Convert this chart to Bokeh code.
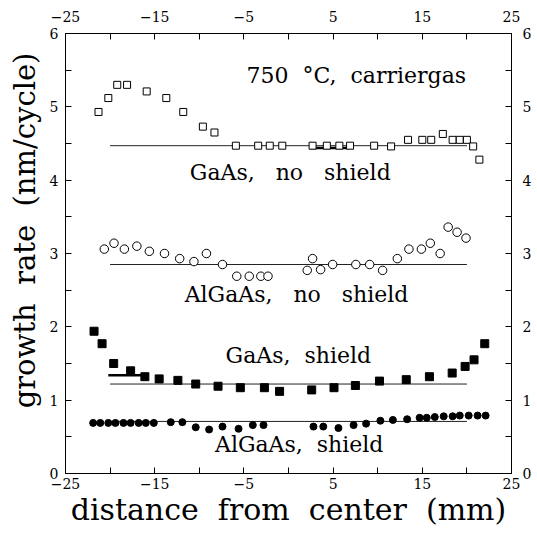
from bokeh.plotting import figure
from bokeh.models import LinearAxis, FixedTicker, Range1d, Label
from bokeh.embed import file_html
from bokeh.resources import INLINE

# ---------------- data ----------------
# GaAs, no shield (open squares)
gaas_ns_x = [-21.3, -20.2, -19.2, -18.1, -15.9, -13.7, -11.8, -9.6, -8.3, -5.9, -3.4, -2.1, -0.7,
             2.7, 4.3, 5.7, 6.9, 9.6, 11.5, 13.4, 15.0, 16.0, 17.3, 18.4, 19.2, 20.0, 20.7, 21.4]
gaas_ns_y = [4.93, 5.12, 5.30, 5.30, 5.21, 5.12, 4.93, 4.73, 4.65, 4.47, 4.47, 4.47, 4.47,
             4.47, 4.47, 4.47, 4.47, 4.47, 4.46, 4.55, 4.55, 4.55, 4.63, 4.55, 4.55, 4.55, 4.46, 4.28]
# AlGaAs, no shield (open circles)
algaas_ns_x = [-20.65, -19.56, -18.4, -17.0, -15.6, -13.9, -12.2, -10.6, -9.2, -7.4, -5.8, -4.4, -3.1, -2.3,
               2.1, 2.7, 3.6, 4.95, 7.55, 9.1, 10.55, 12.2, 13.5, 14.9, 15.9, 17.0, 17.9, 18.9, 19.9]
algaas_ns_y = [3.06, 3.14, 3.06, 3.10, 3.03, 3.00, 2.93, 2.89, 3.00, 2.85, 2.69, 2.69, 2.69, 2.69,
               2.77, 2.93, 2.78, 2.85, 2.85, 2.85, 2.77, 2.93, 3.06, 3.06, 3.14, 3.00, 3.36, 3.29, 3.21]
# GaAs, shield (filled squares)
gaas_s_x = [-21.8, -20.9, -19.6, -17.7, -16.1, -14.5, -12.4, -10.4, -7.9, -5.4, -2.7, -1.0,
            2.6, 5.1, 7.5, 10.2, 13.2, 15.8, 18.35, 19.8, 20.8, 22.0]
gaas_s_y = [1.94, 1.77, 1.50, 1.40, 1.32, 1.29, 1.27, 1.22, 1.19, 1.17, 1.17, 1.12,
            1.14, 1.17, 1.20, 1.26, 1.28, 1.32, 1.37, 1.46, 1.55, 1.77]
# AlGaAs, shield (filled circles)
algaas_s_x = [-21.9, -21.1, -20.2, -19.4, -18.5, -17.7, -16.8, -16.0, -15.1, -13.2, -11.9, -10.4, -8.9,
              -7.4, -5.6, -4.0, -2.8, 2.8, 3.9, 5.6, 7.3, 8.7, 10.3, 11.7, 13.3, 14.7, 15.5, 16.4,
              17.4, 18.4, 19.2, 20.2, 21.2, 22.1]
algaas_s_y = [0.69, 0.69, 0.69, 0.69, 0.69, 0.69, 0.69, 0.69, 0.69, 0.70, 0.70, 0.63, 0.60,
              0.64, 0.61, 0.66, 0.66, 0.64, 0.64, 0.62, 0.66, 0.68, 0.72, 0.73, 0.74, 0.76, 0.76, 0.77,
              0.78, 0.78, 0.79, 0.79, 0.79, 0.79]

# fitted (average) lines: x start, x end, level
fit_x0 = [-20.0, -20.0, -20.0, -20.0]
fit_x1 = [20.0, 20.0, 20.0, 20.0]
fit_y = [4.47, 2.85, 1.22, 0.71]
# short heavier segments
seg_x0 = [2.4, -20.2]
seg_x1 = [6.9, -16.4]
seg_y = [4.44, 1.34]

x_major = [-25, -15, -5, 5, 15, 25]
x_minor = [-20, -10, 0, 10, 20]
y_major = [0, 1, 2, 3, 4, 5, 6]
y_minor = [0.5, 1.5, 2.5, 3.5, 4.5, 5.5]

FONT = "DejaVu Serif"
NB = "\u00a0"

p = figure(width=537, height=537, x_range=Range1d(-25, 25), y_range=Range1d(0, 6),
           output_backend="svg", toolbar_location=None,
           x_axis_location=None, y_axis_location=None,
           min_border_left=65, min_border_right=26, min_border_top=33, min_border_bottom=64)
p.grid.visible = False
p.outline_line_color = "black"
p.outline_line_width = 1
p.background_fill_color = "white"
p.border_fill_color = "white"


def fmt(v):
    s = ("%g" % v)
    return s.replace("-", "\u2212")


def make_axis(cls, loc, ticks, minor, label=None, label_size="30px"):
    ax = cls(ticker=FixedTicker(ticks=ticks, minor_ticks=minor))
    ax.major_label_overrides = {float(t): fmt(t) for t in ticks}
    ax.major_tick_in = 6
    ax.major_tick_out = 0
    ax.minor_tick_in = 6
    ax.minor_tick_out = 0
    ax.axis_line_color = "black"
    ax.major_tick_line_color = "black"
    ax.minor_tick_line_color = "black"
    ax.major_label_text_font = FONT
    ax.major_label_text_font_size = "14px"
    ax.major_label_text_color = "black"
    if label:
        ax.axis_label = label
        ax.axis_label_text_font = FONT
        ax.axis_label_text_font_size = label_size
        ax.axis_label_text_font_style = "normal"
        ax.axis_label_text_color = "black"
    p.add_layout(ax, loc)
    return ax


W = " " + NB
bx = make_axis(LinearAxis, "below", x_major, x_minor,
               "distance" + W + "from" + W + "center" + W + "(mm)", "30px")
bx.major_label_standoff = 4
bx.axis_label_standoff = 0
tx = make_axis(LinearAxis, "above", x_major, x_minor)
tx.major_label_standoff = 12
ly = make_axis(LinearAxis, "left", y_major, y_minor,
               NB * 5 + "growth" + W + "rate" + W + "(nm/cycle)", "29px")
ly.major_label_standoff = 7
ly.axis_label_standoff = 5
ry = make_axis(LinearAxis, "right", y_major, y_minor)
ry.major_label_standoff = 11

# fit lines
p.segment(x0=fit_x0, y0=fit_y, x1=fit_x1, y1=fit_y, line_color="#222222", line_width=1)
p.segment(x0=seg_x0, y0=seg_y, x1=seg_x1, y1=seg_y, line_color="black", line_width=2.5)

# data points
p.scatter(gaas_ns_x, gaas_ns_y, marker="square", size=7, fill_color="white",
          line_color="black", line_width=1)
p.scatter(algaas_ns_x, algaas_ns_y, marker="circle", size=8.5, fill_color="white",
          line_color="black", line_width=1)
p.scatter(gaas_s_x, gaas_s_y, marker="square", size=8, fill_color="black",
          line_color="black")
p.scatter(algaas_s_x, algaas_s_y, marker="circle", size=7, fill_color="black",
          line_color="black")

# annotations
G2 = " " + NB + NB
G1 = " " + NB
for txt, x, y in [("750" + G1 + "\u00b0C," + G1 + "carriergas", 7.6, 5.43),
                  ("GaAs," + G2 + "no" + G2 + "shield", 0.2, 4.1),
                  ("AlGaAs," + G2 + "no" + G2 + "shield", 0.9, 2.44),
                  ("GaAs," + G1 + "shield", 1.1, 1.61),
                  ("AlGaAs," + G1 + "shield", 1.2, 0.40)]:
    p.add_layout(Label(x=x, y=y, text=txt, text_font=FONT, text_font_size="22px",
                       text_align="center", text_baseline="middle", text_color="black"))

open("out.html", "w").write(file_html(p, INLINE))
